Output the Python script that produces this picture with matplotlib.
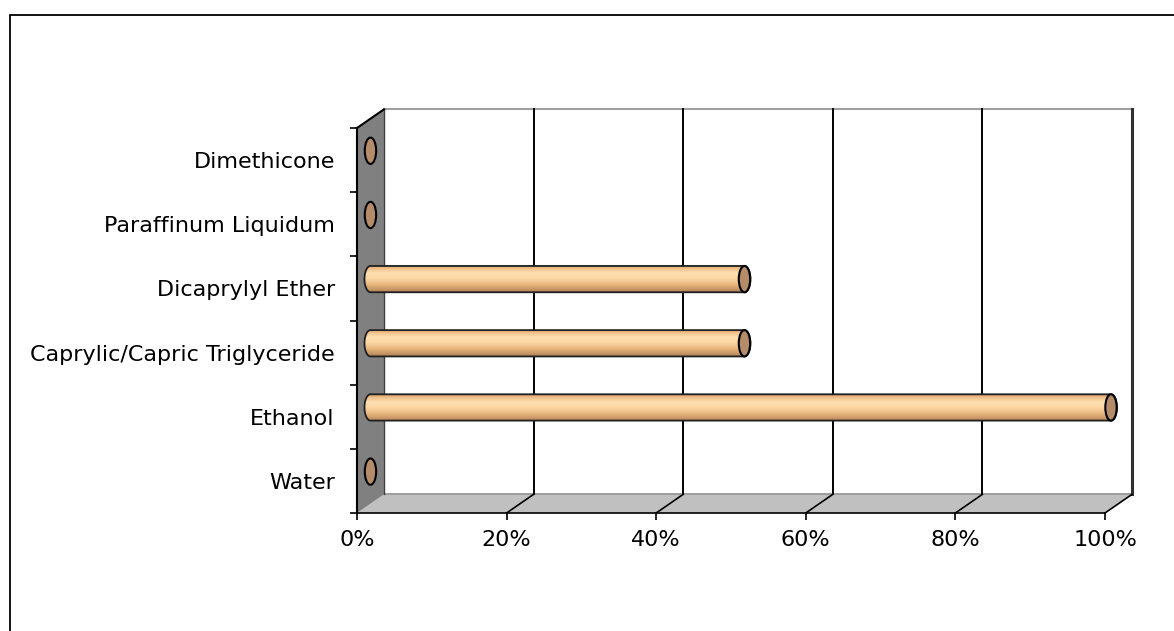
import numpy as np
import matplotlib
matplotlib.use("Agg")
import matplotlib.pyplot as plt
from matplotlib.patches import Polygon, Ellipse, Rectangle
from matplotlib.colors import LinearSegmentedColormap

# data (bottom to top, as drawn)
categories = ["Water", "Ethanol", "Caprylic/Capric Triglyceride",
              "Dicaprylyl Ether", "Paraffinum Liquidum", "Dimethicone"]
values = [0, 99, 50, 50, 0, 0]          # percent
x_ticks = [0, 20, 40, 60, 80, 100]
x_tick_labels = ["0%", "20%", "40%", "60%", "80%", "100%"]

# 3D look: depth offset in data units
DX, DY = 3.6, 0.29
BAR_H = 0.205    # half height of cylinder
CAP_A = 0.8      # half width of end cap (x units)

plt.rcParams['font.family'] = ['DejaVu Sans']

fig = plt.figure(figsize=(11.74, 6.31), dpi=100)
ax = fig.add_axes([357/1174, 118/631, 748/1174, 385/631])
ax.set_facecolor("none")

n = len(categories)
y0, y1 = -0.5, n - 0.5

def p(x, y, d):
    return (x + d*DX, y + d*DY)

# back wall
ax.add_patch(Polygon([p(0, y0, 1), p(100, y0, 1), p(100, y1, 1), p(0, y1, 1)],
                     closed=True, facecolor="white", edgecolor="none", zorder=0, clip_on=False))
# floor
ax.add_patch(Polygon([p(0, y0, 0), p(100, y0, 0), p(100, y0, 1), p(0, y0, 1)],
                     closed=True, facecolor="#c0c0c0", edgecolor="none", zorder=1, clip_on=False))
# side wall
ax.add_patch(Polygon([p(0, y0, 0), p(0, y1, 0), p(0, y1, 1), p(0, y0, 1)],
                     closed=True, facecolor="#808080", edgecolor="none", zorder=1, clip_on=False))

# back wall top and floor back edge
ax.plot([p(0, y1, 1)[0], p(100, y1, 1)[0]], [p(0, y1, 1)[1]]*2, color="#a0a0a0", lw=1.5, clip_on=False, zorder=2)
ax.plot([p(0, y0, 1)[0], p(100, y0, 1)[0]], [p(0, y0, 1)[1]]*2, color="#909090", lw=1.2, clip_on=False, zorder=2)
ax.plot([p(0, y0, 1)[0]]*2, [p(0, y0, 1)[1], p(0, y1, 1)[1]], color="#404040", lw=1.0, clip_on=False, zorder=2)
# wall top diagonal
ax.plot([0, DX], [y1, y1 + DY], color="black", lw=1.5, clip_on=False, zorder=3)

# gridlines on back wall + floor diagonals
for xv in x_ticks[1:]:
    col = "#303030" if xv == 100 else "black"
    lw = 2.2 if xv == 100 else 1.4
    bx, by0 = p(xv, y0, 1)
    ax.plot([bx, bx], [by0, y1 + DY], color=col, lw=lw, clip_on=False, zorder=2)
    ax.plot([xv, bx], [y0, by0], color="black", lw=1.2, clip_on=False, zorder=2)

# cylinder colors (top -> bottom)
body_cmap = LinearSegmentedColormap.from_list(
    "cyl", ["#d49c68", "#f2c48e", "#fedfb0", "#fddcaa", "#f6cd98", "#e8b880", "#d2a06c", "#b08458"])
cap_color = "#b48c6a"
grad = np.linspace(0, 1, 100).reshape(-1, 1)

for i, v in enumerate(values):
    cx0, cy = p(0, i, 0.5)
    cx1 = cx0 + v
    if v > 0:
        t1 = np.linspace(np.pi/2, 3*np.pi/2, 30)
        t2 = np.linspace(-np.pi/2, np.pi/2, 30)
        pts = [(cx0 + CAP_A*np.cos(t), cy + BAR_H*np.sin(t)) for t in t1]
        pts += [(cx1 + CAP_A*np.cos(t), cy + BAR_H*np.sin(t)) for t in t2]
        body = Polygon(pts, closed=True, facecolor="none", edgecolor="#202020", lw=1.3,
                       zorder=5, clip_on=False)
        ax.add_patch(body)
        im = ax.imshow(grad, cmap=body_cmap, aspect="auto", origin="upper",
                       extent=[cx0 - CAP_A, cx1 + CAP_A, cy - BAR_H, cy + BAR_H], zorder=4)
        im.set_clip_path(body)
        im.set_clip_box(fig.bbox)
    ax.add_patch(Ellipse((cx1, cy), 2*CAP_A*0.95, 2*BAR_H, facecolor=cap_color,
                         edgecolor="black", lw=1.5, zorder=6, clip_on=False))

ax.set_xlim(0, 100)
ax.set_ylim(y0, y1)

for s in ["top", "right"]:
    ax.spines[s].set_visible(False)
ax.spines["left"].set_linewidth(1.5)
ax.spines["bottom"].set_linewidth(1.2)
ax.spines["left"].set_zorder(7)

ax.set_xticks(x_ticks)
ax.set_xticklabels(x_tick_labels, fontsize=16)
ax.tick_params(axis="x", length=5, width=1.2, pad=7, direction="out")
ax.set_yticks(np.arange(y0, y1 + 0.01, 1))
ax.set_yticklabels([])
ax.tick_params(axis="y", which="major", length=5, width=1.2, direction="out")
ax.set_yticks(np.arange(n), minor=True)
ax.set_yticklabels(categories, minor=True, fontsize=16)
ax.tick_params(axis="y", which="minor", length=0, pad=16)

# outer chart frame
fig.add_artist(Rectangle((9.5/1174, -0.1), 1.2, 1 - 15/631 + 0.1, transform=fig.transFigure,
                         fill=False, edgecolor="black", lw=1.3))

fig.savefig("out.png", dpi=100)
